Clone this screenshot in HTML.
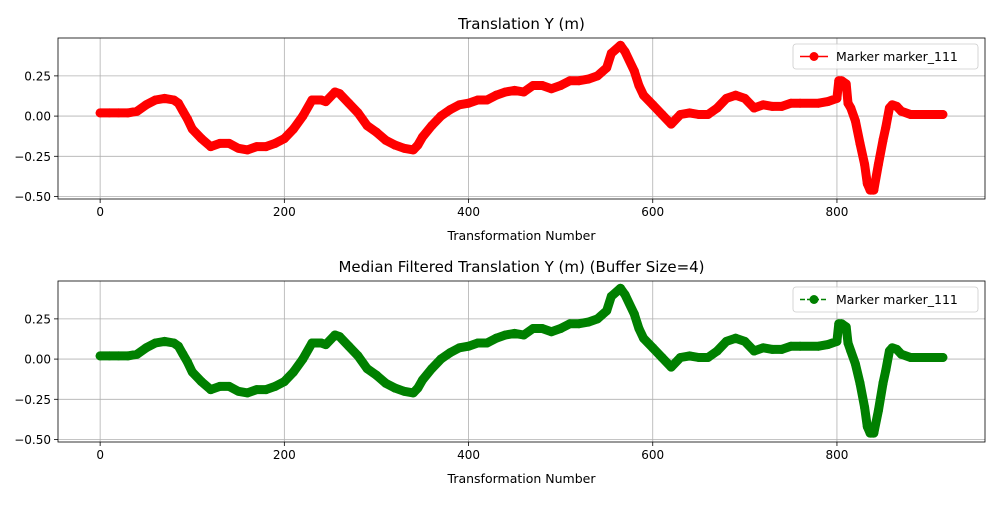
<!DOCTYPE html>
<html><head><meta charset="utf-8"><style>
body{margin:0;background:#fff;}
svg text{font-family:"DejaVu Sans","Liberation Sans",sans-serif;fill:#000;}
</style></head><body>
<svg id="chart" width="1000" height="500" xmlns="http://www.w3.org/2000/svg"></svg>
<script>
const xValues=[0,10,20,30,40,50,60,70,80,85,90,95,100,110,120,130,140,150,160,170,180,190,200,210,220,230,240,245,255,260,270,280,290,300,310,320,330,340,345,350,360,370,380,390,400,410,420,430,440,450,460,470,480,490,500,510,520,530,540,550,555,565,570,580,585,590,600,610,620,630,640,650,660,670,680,690,700,710,720,730,740,750,760,780,790,800,802,805,810,812,815,820,825,830,833,836,840,845,850,853,857,860,865,870,880,900,915];
const rawY=[0.02,0.02,0.02,0.02,0.03,0.07,0.10,0.11,0.10,0.08,0.03,-0.02,-0.08,-0.14,-0.19,-0.17,-0.17,-0.20,-0.21,-0.19,-0.19,-0.17,-0.14,-0.08,0.00,0.10,0.10,0.09,0.15,0.14,0.08,0.02,-0.06,-0.10,-0.15,-0.18,-0.20,-0.21,-0.18,-0.13,-0.06,0.00,0.04,0.07,0.08,0.10,0.10,0.13,0.15,0.16,0.15,0.19,0.19,0.17,0.19,0.22,0.22,0.23,0.25,0.30,0.39,0.44,0.40,0.28,0.19,0.13,0.07,0.01,-0.05,0.01,0.02,0.01,0.01,0.05,0.11,0.13,0.11,0.05,0.07,0.06,0.06,0.08,0.08,0.08,0.09,0.11,0.22,0.22,0.20,0.08,0.05,-0.03,-0.17,-0.30,-0.42,-0.46,-0.46,-0.30,-0.15,-0.07,0.05,0.07,0.06,0.03,0.01,0.01,0.01];
const filtY=[0.02,0.02,0.02,0.02,0.03,0.07,0.10,0.11,0.10,0.08,0.03,-0.02,-0.08,-0.14,-0.19,-0.17,-0.17,-0.20,-0.21,-0.19,-0.19,-0.17,-0.14,-0.08,0.00,0.10,0.10,0.09,0.15,0.14,0.08,0.02,-0.06,-0.10,-0.15,-0.18,-0.20,-0.21,-0.18,-0.13,-0.06,0.00,0.04,0.07,0.08,0.10,0.10,0.13,0.15,0.16,0.15,0.19,0.19,0.17,0.19,0.22,0.22,0.23,0.25,0.30,0.39,0.44,0.40,0.28,0.19,0.13,0.07,0.01,-0.05,0.01,0.02,0.01,0.01,0.05,0.11,0.13,0.11,0.05,0.07,0.06,0.06,0.08,0.08,0.08,0.09,0.11,0.22,0.22,0.20,0.10,0.05,-0.03,-0.15,-0.30,-0.42,-0.46,-0.46,-0.32,-0.15,-0.07,0.05,0.07,0.06,0.03,0.01,0.01,0.01];
const xTicks=[0,200,400,600,800];
const yTicks=[0.25,0,-0.25,-0.5];
const yTickLabels=["0.25","0.00","\u22120.25","\u22120.50"];
const NS="http://www.w3.org/2000/svg";
const svg=document.getElementById('chart');
function mk(tag,attrs,parent){const e=document.createElementNS(NS,tag);for(const k in attrs)e.setAttribute(k,attrs[k]);(parent||svg).appendChild(e);return e;}
const X0=58,X1=985,xmin=-45.75,xmax=960.75;
function sx(v){return X0+(v-xmin)/(xmax-xmin)*(X1-X0);}
function panel(top,title,ys,color,dashed,prefix){
  const T=top,B=top+161,ymin=-0.5155,ymax=0.4855;
  const sy=v=>B-(v-ymin)/(ymax-ymin)*(B-T);
  const g=mk('g',{});
  
  
  xTicks.forEach(t=>{const x=sx(t);
    const l=mk('line',{x1:x,x2:x,y1:T,y2:B,stroke:'#b0b0b0','stroke-width':0.8},g);
    
    mk('line',{x1:x,x2:x,y1:B,y2:B+4,stroke:'#000','stroke-width':0.8},g);
    const tx=mk('text',{x:x,y:B+17,'text-anchor':'middle','font-size':12},g);tx.textContent=t;
    });
  yTicks.forEach((t,i)=>{const y=sy(t);
    const l=mk('line',{x1:X0,x2:X1,y1:y,y2:y,stroke:'#b0b0b0','stroke-width':0.8},g);
    
    mk('line',{x1:X0-4,x2:X0,y1:y,y2:y,stroke:'#000','stroke-width':0.8},g);
    const tx=mk('text',{x:X0-7,y:y+4.5,'text-anchor':'end','font-size':12},g);tx.textContent=yTickLabels[i];
    });
  const pts=xValues.map((x,i)=>sx(x).toFixed(1)+','+sy(ys[i]).toFixed(1)).join(' ');
  const thick=mk('polyline',{points:pts,fill:'none',stroke:color,'stroke-width':9,'stroke-linejoin':'round','stroke-linecap':'round'},g);
  
  xValues.forEach((x,i)=>{const c=mk('circle',{cx:sx(x),cy:sy(ys[i]),r:4.5,fill:color},g);
    });
  const fr=mk('rect',{x:X0,y:T,width:X1-X0,height:B-T,fill:'none',stroke:'#000','stroke-width':0.8},g);
  
  const tt=mk('text',{x:(X0+X1)/2,y:T-9,'text-anchor':'middle','font-size':15},g);tt.textContent=title;
  
  const xl=mk('text',{x:(X0+X1)/2,y:B+41,'text-anchor':'middle','font-size':12.5},g);xl.textContent='Transformation Number';
  
  const lg=mk('g',{},g);
  
  mk('rect',{x:793,y:T+6,width:185,height:25,rx:3,fill:'#fff','fill-opacity':0.8,stroke:'#ccc','stroke-width':0.8},lg);
  const ll=mk('line',{x1:800,x2:828,y1:T+18.5,y2:T+18.5,stroke:color,'stroke-width':1.5},lg);
  if(dashed)ll.setAttribute('stroke-dasharray','5,2');
  mk('circle',{cx:814,cy:T+18.5,r:4.5,fill:color},lg);
  const lt=mk('text',{x:836,y:T+23,'font-size':12.5},lg);lt.textContent='Marker marker_111';
  
}
panel(38,'Translation Y (m)',rawY,'#ff0000',false,'raw');
panel(281,'Median Filtered Translation Y (m) (Buffer Size=4)',filtY,'#008000',true,'filtered');
</script>
</body></html>
